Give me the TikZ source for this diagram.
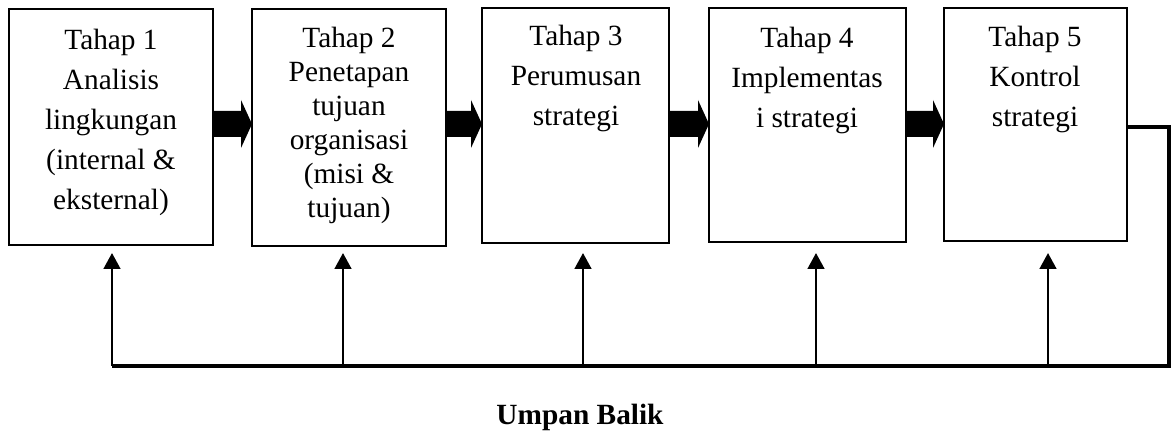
\documentclass[tikz,border=0pt]{standalone}
\usepackage{fontspec}
\setmainfont{Liberation Serif}
\usetikzlibrary{arrows.meta,calc}
\newcommand{\blockarr}[2]{%
  \fill ($(#1)+(0,-13)$) -- ($(#2)+(-11,-13)$) -- ($(#2)+(-11,-24)$) -- (#2)
    -- ($(#2)+(-11,24)$) -- ($(#2)+(-11,13)$) -- ($(#1)+(0,13)$) -- cycle;}
\begin{document}
\begin{tikzpicture}[x=0.75pt,y=-0.75pt,
  box/.style={draw,line width=1.6pt,rectangle,inner sep=0pt,outer sep=0pt,anchor=north west},
  txt/.style={align=center,inner sep=0pt,anchor=north,font=\fontsize{22}{30}\selectfont},
  fbline/.style={line width=2.5pt},
  fbarrow/.style={line width=2pt,-{Triangle[length=12pt,width=12.5pt]}},
  caption/.style={inner sep=0pt,anchor=base,font=\fontsize{22}{30}\selectfont\bfseries},
]
\useasboundingbox (0,0) rectangle (1171,434);

% boxes
\node[box,minimum width=153pt,minimum height=177pt] (b1) at (9,9) {};
\node[box,minimum width=145.5pt,minimum height=177.75pt] (b2) at (252,9) {};
\node[box,minimum width=140.25pt,minimum height=176.25pt] (b3) at (482,8) {};
\node[box,minimum width=147.75pt,minimum height=175.5pt] (b4) at (709,8) {};
\node[box,minimum width=137.25pt,minimum height=174.75pt] (b5) at (944,8) {};

% texts
\node[txt] (t1) at (111,29) {Tahap 1\\Analisis\\lingkungan\\(internal \&\\eksternal)};
\node[txt,font=\fontsize{22}{25.5}\selectfont] (t2) at (349,27) {Tahap 2\\Penetapan\\tujuan\\organisasi\\(misi \&\\tujuan)};
\node[txt] (t3) at (576,25) {Tahap 3\\Perumusan\\strategi};
\node[txt] (t4) at (807,27) {Tahap 4\\Implementas\\i strategi};
\node[txt] (t5) at (1035,26) {Tahap 5\\Kontrol\\strategi};

% block arrows between stages
\coordinate (s1) at (b1.east |- 0,124);
\coordinate (e1) at (b2.west |- 0,124);
\coordinate (s2) at (b2.east |- 0,124);
\coordinate (e2) at (b3.west |- 0,124);
\coordinate (s3) at (b3.east |- 0,124);
\coordinate (e3) at (b4.west |- 0,124);
\coordinate (s4) at (b4.east |- 0,124);
\coordinate (e4) at (b5.west |- 0,124);
\blockarr{s1}{e1}
\blockarr{s2}{e2}
\blockarr{s3}{e3}
\blockarr{s4}{e4}

% feedback loop
\coordinate (fr) at (1169,366);
\coordinate (f1) at (112,366);
\coordinate (f2) at (343,366);
\coordinate (f3) at (583,366);
\coordinate (f4) at (816,366);
\coordinate (f5) at (1048,366);
\coordinate (a1) at (112,253);
\coordinate (a2) at (343,253);
\coordinate (a3) at (583,253);
\coordinate (a4) at (816,253);
\coordinate (a5) at (1048,253);
\draw[fbline] (b5.east |- 0,127) -| (fr) -- (f1);
\draw[fbarrow] (f1) -- (a1);
\draw[fbarrow] (f2) -- (a2);
\draw[fbarrow] (f3) -- (a3);
\draw[fbarrow] (f4) -- (a4);
\draw[fbarrow] (f5) -- (a5);

\node[caption] (cap) at (580,425) {Umpan Balik};
\end{tikzpicture}
\end{document}
